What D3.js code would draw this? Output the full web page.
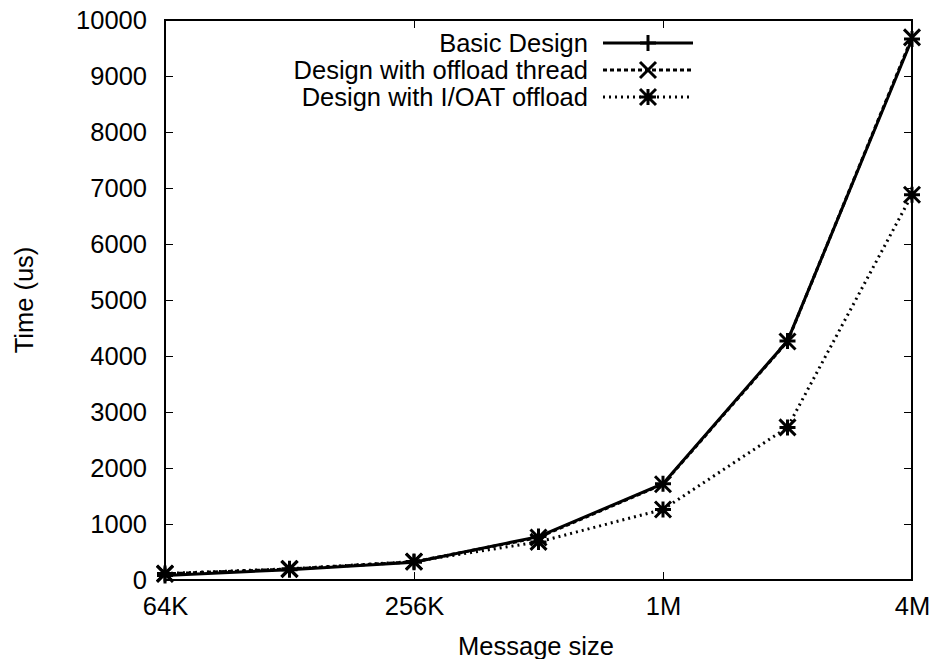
<!DOCTYPE html>
<html><head><meta charset="utf-8">
<script src="https://cdn.jsdelivr.net/npm/d3@7"></script>
<style>
body{margin:0;background:#fff;}
text{font-family:"Liberation Sans",Arial,sans-serif;fill:#000;}
</style></head>
<body>
<svg id="chart" width="932" height="659"></svg>
<script>
const sizes = [65536, 131072, 262144, 524288, 1048576, 2097152, 4194304];
const xTickValues = [65536, 262144, 1048576, 4194304];
const xTickLabels = ["64K", "256K", "1M", "4M"];
const yTickValues = [0,1000,2000,3000,4000,5000,6000,7000,8000,9000,10000];
const basicDesign = [80, 185, 318, 775, 1720, 4270, 9660];
const offloadThread = [110, 195, 325, 760, 1710, 4260, 9690];
const ioatOffload = [115, 200, 330, 680, 1260, 2725, 6880];
const seriesNames = ["Basic Design", "Design with offload thread", "Design with I/OAT offload"];

const svg = d3.select("#chart");
const L = 165, R = 912, T = 20, B = 580;
const FS = 25.5;
const x = d3.scaleLog().base(2).domain([65536, 4194304]).range([L, R]);
const y = d3.scaleLinear().domain([0, 10000]).range([B, T]);

const series = [
  {name: seriesNames[0], vals: basicDesign, dash: null, marker: "plus"},
  {name: seriesNames[1], vals: offloadThread, dash: "4,3", marker: "cross"},
  {name: seriesNames[2], vals: ioatOffload, dash: "2,4", marker: "star"}
];

// axes (ticks inside, mirrored)
const tickLen = 8;
const g = svg.append("g");
const yAxisL = d3.axisLeft(y).tickValues(yTickValues).tickSize(-tickLen).tickPadding(18).tickFormat(d3.format("d"));
const yAxisR = d3.axisRight(y).tickValues(yTickValues).tickSize(-tickLen).tickFormat("");
const xAxisB = d3.axisBottom(x).tickValues(xTickValues).tickSize(-tickLen).tickPadding(17).tickFormat((d,i)=>xTickLabels[i]);
const xAxisT = d3.axisTop(x).tickValues(xTickValues).tickSize(-tickLen).tickFormat("");
g.append("g").attr("transform",`translate(${L},0)`).call(yAxisL);
g.append("g").attr("transform",`translate(${R},0)`).call(yAxisR);
g.append("g").attr("transform",`translate(0,${B})`).call(xAxisB);
g.append("g").attr("transform",`translate(0,${T})`).call(xAxisT);
g.selectAll(".domain").remove();
g.selectAll(".tick line").attr("stroke","#000").attr("stroke-width",1);
g.selectAll(".tick text").attr("font-size",FS).attr("font-family","Liberation Sans, Arial, sans-serif").attr("fill","#000");
svg.append("rect").attr("x",L).attr("y",T).attr("width",R-L).attr("height",B-T)
  .attr("fill","none").attr("stroke","#000").attr("stroke-width",2);

// titles
svg.append("text").attr("x",536).attr("y",655).attr("text-anchor","middle").attr("font-size",FS).text("Message size");
svg.append("text").attr("transform","translate(33,300) rotate(-90)").attr("text-anchor","middle").attr("font-size",FS).text("Time (us)");

function marker(sel, type, cx, cy, s) {
  const h = s/2;
  const p = d3.path();
  if (type === "plus" || type === "star") {
    p.moveTo(cx-h, cy); p.lineTo(cx+h, cy);
    p.moveTo(cx, cy-h); p.lineTo(cx, cy+h);
  }
  if (type === "cross" || type === "star") {
    p.moveTo(cx-h, cy-h); p.lineTo(cx+h, cy+h);
    p.moveTo(cx-h, cy+h); p.lineTo(cx+h, cy-h);
  }
  sel.append("path").attr("d", p.toString()).attr("stroke","#000").attr("stroke-width",3).attr("fill","none");
}

const line = d3.line().x((d,i)=>x(sizes[i])).y(d=>y(d));
series.slice().reverse().forEach(s => {
  svg.append("path").datum(s.vals).attr("d", line).attr("fill","none")
    .attr("stroke","#000").attr("stroke-width",3)
    .attr("stroke-dasharray", s.dash);
  s.vals.forEach((v,i)=> marker(svg, s.marker, x(sizes[i]), y(v), 16));
});

// legend
const legX = 588, sampX1 = 603, sampX2 = 693, rowY = [43, 70, 97];
series.forEach((s, i) => {
  svg.append("text").attr("x", legX).attr("y", rowY[i]).attr("dy","0.35em")
    .attr("text-anchor","end").attr("font-size",FS).text(s.name);
  svg.append("line").attr("x1",sampX1).attr("x2",sampX2).attr("y1",rowY[i]).attr("y2",rowY[i])
    .attr("stroke","#000").attr("stroke-width",3).attr("stroke-dasharray", s.dash);
  marker(svg, s.marker, (sampX1+sampX2)/2, rowY[i], 16);
});
</script>
</body></html>
